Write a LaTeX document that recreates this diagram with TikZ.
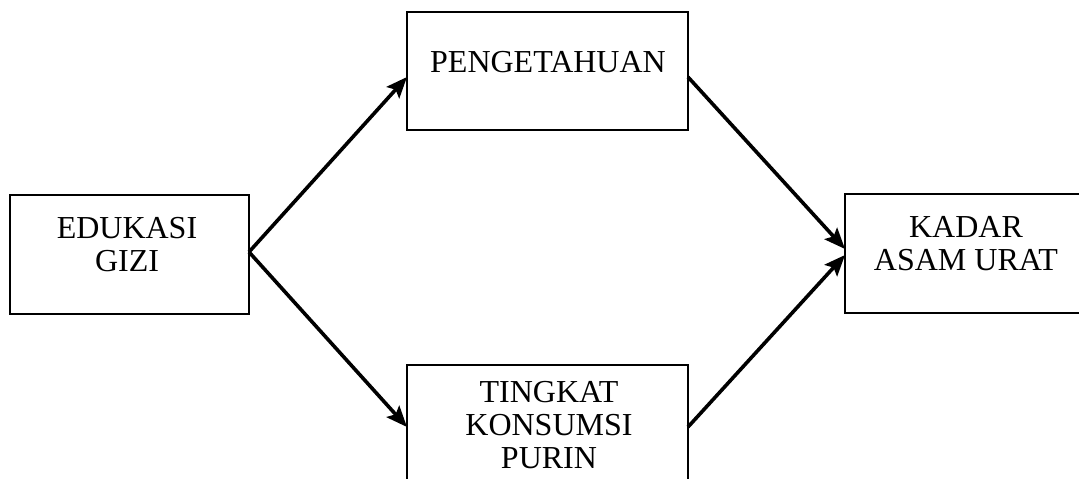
\documentclass[tikz,border=0pt]{standalone}
\usepackage{fontspec}
\setmainfont{Liberation Serif}
\usetikzlibrary{arrows.meta}
\tikzset{
  box/.style={draw, line width=1.4pt, inner sep=0pt, outer sep=0pt},
  lbl/.style={align=center, inner sep=0pt, font=\fontsize{32}{33}\selectfont},
  arr/.style={line width=3.6pt, -{Stealth[length=21pt,width=17pt,inset=4pt]}}
}
\begin{document}
\begin{tikzpicture}[x=1pt,y=-1pt]
\useasboundingbox (0,0) rectangle (1079,479);
\clip (0,0) rectangle (1079,479);
\fill[white] (0,0) rectangle (1079,479);
% boxes
\node[box, minimum width=239pt, minimum height=119pt] (edu) at (129.5,254.5) {};
\node[box, minimum width=281pt, minimum height=118pt] (pen) at (547.5,71) {};
\node[box, minimum width=281pt, minimum height=124pt] (tin) at (547.5,427) {};
\node[box, minimum width=255pt, minimum height=119pt] (kad) at (972.5,253.5) {};
% labels
\node[lbl] (eduT) at (127,245) {EDUKASI\\GIZI};
\node[lbl] (penT) at (548,62) {PENGETAHUAN};
\node[lbl] (tinT) at (549,425) {TINGKAT\\KONSUMSI\\PURIN};
\node[lbl] (kadT) at (966,244) {KADAR\\ASAM URAT};
% connectors
\draw[arr] ([yshift=2.5pt]edu.east) -- ([yshift=-6pt]pen.west);
\draw[arr] ([yshift=2.5pt]edu.east) -- (tin.west);
\draw[arr] ([yshift=-6pt]pen.east) -- ([yshift=4.5pt]kad.west);
\draw[arr] (tin.east) -- ([yshift=-1.5pt]kad.west);
\end{tikzpicture}
\end{document}
